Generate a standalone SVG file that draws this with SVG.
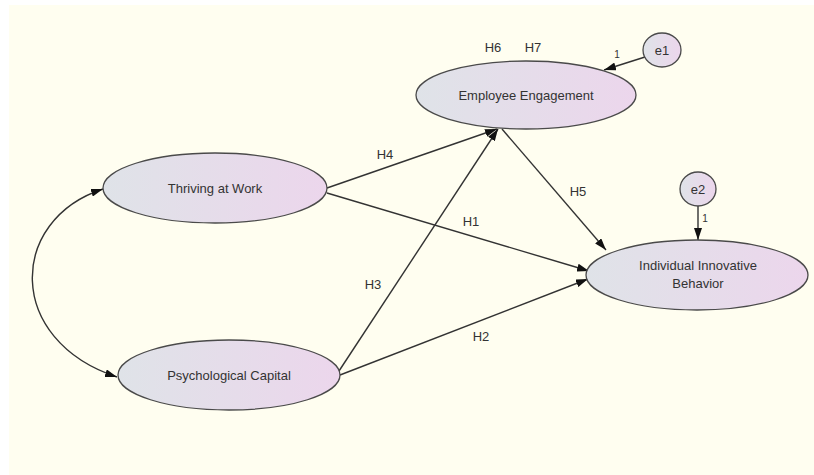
<svg xmlns="http://www.w3.org/2000/svg" width="814" height="475" viewBox="0 0 814 475">
<style>
.node ellipse{fill:url(#g);stroke:#4a4a4a;stroke-width:1.3}
.lbl{font-family:"Liberation Sans",Arial,sans-serif;font-size:13px;fill:#333;text-anchor:middle}
.sm{font-family:"Liberation Sans",Arial,sans-serif;font-size:10px;fill:#333;text-anchor:middle}
.edges path,.edges line{stroke:#333;stroke-width:1.4;fill:none}
</style>
<defs>
<linearGradient id="g" x1="0" y1="0" x2="1" y2="0">
<stop offset="0" stop-color="#dfe3e8"/>
<stop offset="1" stop-color="#ecd6ec"/>
</linearGradient>
<marker id="a" viewBox="0 0 12 8" refX="12" refY="4" markerWidth="12" markerHeight="8" markerUnits="userSpaceOnUse" orient="auto-start-reverse">
<path d="M0,0 L12,4 L0,8 Z" fill="#111"/>
</marker>
</defs>
<rect x="0" y="0" width="814" height="475" fill="#ffffff"/>
<rect x="9" y="5" width="805" height="470" fill="#fffef0"/>
<g class="edges">
<path d="M103,189 C8,220 5,340 117,377" marker-start="url(#a)" marker-end="url(#a)"/>
<line x1="327" y1="188" x2="497" y2="129" marker-end="url(#a)"/>
<line x1="339" y1="371" x2="498" y2="129" marker-end="url(#a)"/>
<line x1="327" y1="193" x2="589" y2="271" marker-end="url(#a)"/>
<line x1="340" y1="375" x2="588" y2="279" marker-end="url(#a)"/>
<line x1="502" y1="129" x2="606" y2="250" marker-end="url(#a)"/>
<line x1="645" y1="57" x2="604" y2="70" marker-end="url(#a)"/>
<line x1="698" y1="206" x2="698" y2="240" marker-end="url(#a)"/>
</g>
<g id="ee" class="node"><ellipse cx="526" cy="95" rx="110" ry="34"/><text class="lbl" x="526" y="100">Employee Engagement</text></g>
<g id="taw" class="node"><ellipse cx="215" cy="188" rx="112" ry="35"/><text class="lbl" x="215" y="193">Thriving at Work</text></g>
<g id="pc" class="node"><ellipse cx="229" cy="375" rx="111" ry="35"/><text class="lbl" x="229" y="380">Psychological Capital</text></g>
<g id="iib" class="node"><ellipse cx="697" cy="275" rx="111" ry="35"/><text class="lbl" x="698" y="270">Individual Innovative</text><text class="lbl" x="698" y="288">Behavior</text></g>
<g id="e1" class="node"><ellipse cx="662" cy="50" rx="19" ry="17"/><text class="lbl" x="662" y="55">e1</text></g>
<g id="e2" class="node"><ellipse cx="698" cy="189" rx="18" ry="17"/><text class="lbl" x="698" y="194">e2</text></g>
<g id="labels">
<text class="lbl" x="493" y="52">H6</text>
<text class="lbl" x="533" y="52">H7</text>
<text class="lbl" x="385" y="159">H4</text>
<text class="lbl" x="578" y="196">H5</text>
<text class="lbl" x="471" y="226">H1</text>
<text class="lbl" x="373" y="289">H3</text>
<text class="lbl" x="481" y="341">H2</text>
<text class="sm" x="617" y="58">1</text>
<text class="sm" x="705" y="222">1</text>
</g>
</svg>
